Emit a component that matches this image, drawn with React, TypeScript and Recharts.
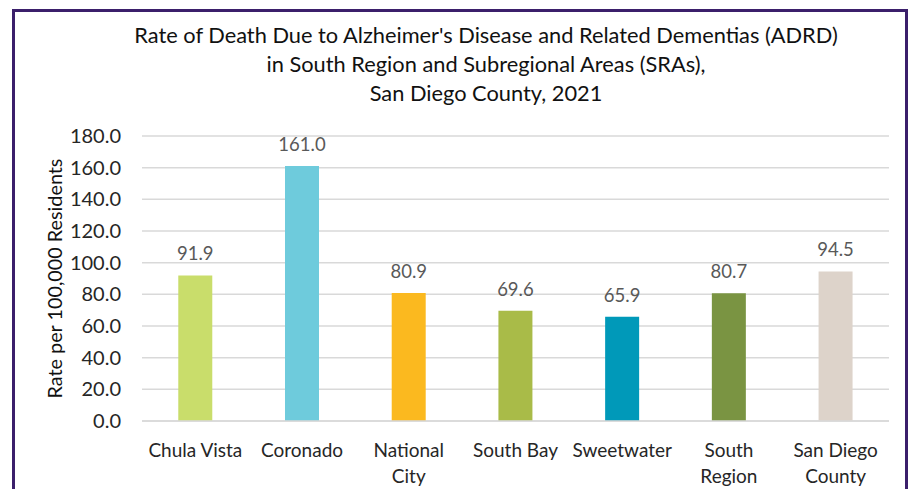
import React from 'react';
import { BarChart, Bar, XAxis, YAxis, CartesianGrid, LabelList, Cell } from 'recharts';

const areas = ['Chula Vista', 'Coronado', 'National City', 'South Bay', 'Sweetwater', 'South Region', 'San Diego County'];
const rates = [91.9, 161.0, 80.9, 69.6, 65.9, 80.7, 94.5];
const barColors = ['#c9dd6b', '#6ecbdc', '#fbb91f', '#a9bb48', '#0099b9', '#7a9442', '#ddd3ca'];
const yTicks = [0, 20, 40, 60, 80, 100, 120, 140, 160, 180];
const titleLines = [
    "Rate of Death Due to Alzheimer's Disease and Related Dementias (ADRD)",
    'in South Region and Subregional Areas (SRAs),',
    'San Diego County, 2021',
];
// how category names wrap under the axis
const tickLines: Record<string, string[]> = {
    'National City': ['National', 'City'],
    'South Region': ['South', 'Region'],
    'San Diego County': ['San Diego', 'County'],
};

const data = areas.map((area, i) => ({ area, rate: rates[i] }));

const FONT = 'Lato, "Noto Sans", sans-serif';

function AreaTick({ x, y, payload }: any) {
    const lines = tickLines[payload.value] || [payload.value];
    return (
        <text x={x} y={y} textAnchor="middle" fill="#262626" fontSize={19} fontFamily={FONT}>
            {lines.map((line, i) => (
                <tspan key={i} x={x} y={y + 28 + i * 26}>{line}</tspan>
            ))}
        </text>
    );
}

export default function App() {
    return (
        <div style={{ position: 'absolute', left: 0, top: 0, width: 908, height: 489, background: '#fff', overflow: 'hidden' }}>
            {/* purple frame, cut off at the bottom */}
            <div style={{ position: 'absolute', left: 12, top: 9, width: 890, height: 500, border: '3px solid #3b1f6b', boxSizing: 'content-box' }} />

            <div style={{ position: 'absolute', left: 0, top: 20, width: 972, textAlign: 'center', fontFamily: FONT, fontSize: 21.8, lineHeight: '29px', color: '#111' }}>
                {titleLines.map((t) => <div key={t}>{t}</div>)}
            </div>

            <div style={{ position: 'absolute', left: 0, top: 0 }}>
                <BarChart width={908} height={489} data={data} margin={{ top: 136, right: 19, left: 72, bottom: 8 }} barCategoryGap="34%">
                    <CartesianGrid vertical={false} stroke="#d9d9d9" strokeWidth={1.5} />
                    <XAxis dataKey="area" interval={0} height={60} axisLine={{ stroke: '#d9d9d9', strokeWidth: 1.5 }} tickLine={false} tick={<AreaTick />} />
                    <YAxis
                        width={70}
                        domain={[0, 180]}
                        ticks={yTicks}
                        axisLine={false}
                        tickLine={false}
                        tickMargin={15}
                        tickFormatter={(v: number) => v.toFixed(1)}
                        tick={{ fill: '#262626', fontSize: 20, fontFamily: FONT }}
                        label={{ value: 'Rate per 100,000 Residents', angle: -90, position: 'center', dx: -52, fill: '#111', fontSize: 19.8, fontFamily: FONT }}
                    />
                    <Bar dataKey="rate" isAnimationActive={false}>
                        {data.map((d, i) => <Cell key={d.area} fill={barColors[i]} />)}
                        <LabelList dataKey="rate" position="top" offset={15} formatter={(v: any) => Number(v).toFixed(1)} fill="#595959" fontSize={18.5} fontFamily={FONT} />
                    </Bar>
                </BarChart>
            </div>
        </div>
    );
}
